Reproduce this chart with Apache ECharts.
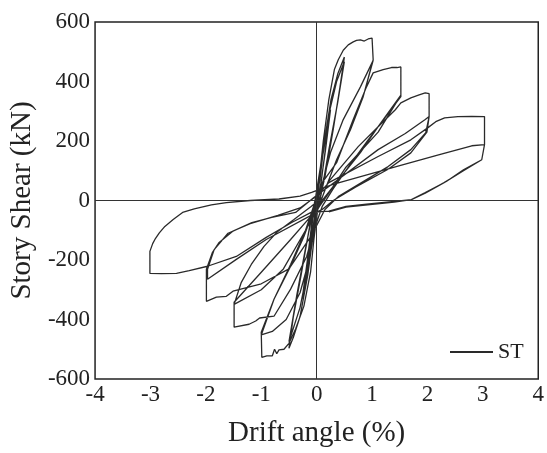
<!DOCTYPE html>
<html>
<head>
<meta charset="utf-8">
<script src="https://cdn.jsdelivr.net/npm/echarts@6/dist/echarts.min.js"></script>
<style>html,body{margin:0;padding:0;background:#fff;}#c{width:547px;height:453px;}</style>
</head>
<body>
<div id="c"></div>
<script>
// Axis ticks
var xTicks = [-4, -3, -2, -1, 0, 1, 2, 3, 4];
var yTicks = [-600, -400, -200, 0, 200, 400, 600];
var seriesName = 'ST';

// Hysteresis path, in loading order: [drift %, shear kN]
var cyc01 = [[0,0],[0.04,70],[0.1,160],[0.06,90],[0.0,10],[-0.04,-60],[-0.1,-165],[-0.05,-85],[0.01,-5],[0.05,80],[0.1,150],[0.05,70],[-0.01,0],[-0.05,-80],[-0.1,-155],[-0.04,-70],[0.01,0]];
var cyc025 = [[0.08,110],[0.17,230],[0.25,320],[0.19,220],[0.08,60],[0.0,-20],[-0.08,-120],[-0.17,-240],[-0.25,-330],[-0.18,-220],[-0.07,-50],[0.02,20],[0.1,140],[0.25,305],[0.16,170],[0.04,10],[-0.05,-70],[-0.25,-315],[-0.16,-190],[-0.04,-20]];
var cyc05 = [[0.06,70],[0.14,200],[0.26,340],[0.38,425],[0.5,482],[0.42,380],[0.3,240],[0.15,80],[0.04,-10],[-0.06,-110],[-0.16,-250],[-0.3,-390],[-0.42,-460],[-0.5,-497],[-0.42,-390],[-0.28,-250],[-0.12,-80],[-0.02,10],[0.1,150],[0.22,290],[0.36,400],[0.5,467],[0.38,330],[0.22,170],[0.08,20],[-0.02,-60],[-0.14,-210],[-0.3,-360],[-0.5,-475],[-0.36,-320],[-0.2,-160],[-0.06,-30]];
var cyc10 = [[0.04,60],[0.12,200],[0.22,339],[0.32,440],[0.39,473],[0.48,505],[0.57,523],[0.66,533],[0.72,538],[0.79,540],[0.86,536],[0.93,543],[1.0,546],[1.01,546],[1.02,473],[0.84,349],[0.61,238],[0.36,137],[0.16,40],[0.02,-30],
  [-0.05,-131],[-0.11,-241],[-0.23,-355],[-0.38,-432],[-0.5,-480],[-0.59,-500],[-0.68,-502],[-0.72,-515],[-0.76,-500],[-0.8,-522],[-0.9,-522],[-0.99,-527],[-1.0,-443],[-0.77,-332],[-0.47,-221],[-0.23,-121],[-0.05,-30],[0.05,20],
  [0.25,161],[0.48,272],[0.79,382],[1.02,471],[0.84,349],[0.61,238],[0.36,137],[0.14,30],[0.0,-40],
  [-0.12,-190],[-0.3,-310],[-0.55,-400],[-0.8,-440],[-1.0,-452],[-0.77,-332],[-0.47,-215],[-0.2,-100],[-0.02,0]];
var cyc15 = [[0.1,60],[0.36,127],[0.66,272],[0.9,382],[1.02,429],[1.2,440],[1.35,447],[1.45,447],[1.52,449],[1.52,349],[1.2,270],[0.93,204],[0.6,120],[0.3,40],[0.1,-20],
  [-0.05,-100],[-0.18,-188],[-0.47,-298],[-0.77,-389],[-1.03,-395],[-1.1,-405],[-1.22,-416],[-1.49,-426],[-1.49,-342],[-1.0,-241],[-0.47,-131],[-0.11,-54],[0.1,0],
  [0.3,47],[0.79,161],[1.11,248],[1.52,354],[1.11,230],[0.52,110],[0.2,20],[0.05,-20],
  [-0.2,-100],[-0.6,-230],[-1.0,-300],[-1.49,-349],[-1.36,-275],[-1.18,-215],[-0.95,-154],[-0.72,-107],[-0.41,-64],[-0.1,-20],[0.1,10]];
var cyc20 = [[0.2,60],[0.75,181],[1.11,248],[1.42,305],[1.52,328],[1.7,345],[1.85,355],[1.96,362],[2.03,359],[2.03,282],[1.97,228],[1.7,171],[1.29,114],[0.81,60],[0.39,13],[0.15,-30],
  [-0.1,-120],[-0.5,-230],[-1.0,-280],[-1.51,-305],[-1.63,-322],[-1.81,-325],[-1.99,-339],[-1.99,-231],[-1.88,-174],[-1.76,-141],[-1.52,-104],[-1.17,-74],[-0.81,-57],[-0.38,-40],[-0.05,10],
  [0.22,47],[1.11,171],[1.6,225],[1.96,272],[2.03,282],[1.99,230],[1.7,160],[1.29,105],[0.7,45],[0.3,0],[0.1,-30],
  [-0.91,-131],[-1.45,-198],[-1.97,-265],[-1.97,-231],[-1.85,-165],[-1.6,-110],[-1.2,-78],[-0.7,-50],[-0.3,-25],[0.0,15]];
var cyc30 = [[0.22,60],[1.11,148],[1.7,204],[2.01,245],[2.15,265],[2.31,278],[2.55,282],[2.8,283],[3.03,282],[3.03,188],[2.98,137],[2.65,103],[2.34,64],[1.96,27],[1.71,3],[1.4,-3],[0.9,-12],[0.53,-20],[0.22,-36],
  [-0.1,-40],[-0.45,-74],[-0.91,-124],[-1.45,-188],[-1.97,-221],[-2.3,-236],[-2.53,-245],[-2.8,-246],[-3.01,-245],[-3.01,-171],[-2.96,-145],[-2.92,-131],[-2.84,-109],[-2.74,-87],[-2.59,-64],[-2.42,-40],[-2.21,-28],[-1.9,-15],[-1.63,-7],[-1.2,0],[-0.68,5],[-0.3,15],[-0.09,27],
  [0.28,53],[1.5,117],[2.2,153],[2.8,184],[3.03,188],[2.98,137],[2.65,100],[2.3,60],[1.96,25],[1.71,3],[1.4,-5],[0.53,-22],[0.22,-38]];

var path = [].concat(cyc01, cyc025, cyc05, cyc10, cyc15, cyc20, cyc30);

var font = 'Liberation Serif';
var chart = echarts.init(document.getElementById('c'), null, {renderer: 'canvas'});
chart.setOption({
  animation: false,
  backgroundColor: '#ffffff',
  grid: {left: 95, right: 5, top: 22, bottom: 73, show: true, borderColor: '#222', borderWidth: 1.5, backgroundColor: 'transparent'},
  legend: {
    left: 450, top: 341, padding: 0, itemWidth: 43, itemHeight: 2, itemGap: 0,
    data: [{name: seriesName, icon: 'rect'}],
    textStyle: {fontFamily: font, fontSize: 22, color: '#222'}
  },
  xAxis: {
    type: 'value', min: xTicks[0], max: xTicks[xTicks.length - 1], interval: 1,
    name: 'Drift angle (%)', nameLocation: 'middle', nameGap: 40,
    nameTextStyle: {fontFamily: font, fontSize: 29, color: '#222'},
    axisLine: {show: false}, axisTick: {show: false}, splitLine: {show: false},
    axisLabel: {fontFamily: font, fontSize: 23, color: '#222', margin: 4}
  },
  yAxis: {
    type: 'value', min: yTicks[0], max: yTicks[yTicks.length - 1], interval: 200,
    name: 'Story Shear (kN)', nameLocation: 'middle', nameGap: 56,
    nameTextStyle: {fontFamily: font, fontSize: 29, color: '#222'},
    axisLine: {show: false}, axisTick: {show: false}, splitLine: {show: false},
    axisLabel: {fontFamily: font, fontSize: 23, color: '#222', margin: 5}
  },
  series: [{
    name: seriesName, type: 'line', data: path, showSymbol: false, symbol: 'none',
    smooth: false, clip: false,
    lineStyle: {color: '#2a2a2a', width: 1.3},
    itemStyle: {color: '#2a2a2a'},
    markLine: {
      silent: true, symbol: 'none', label: {show: false},
      lineStyle: {color: '#333', width: 1, type: 'solid'},
      data: [{yAxis: 0}, {xAxis: 0}]
    }
  }]
});
</script>
</body>
</html>
